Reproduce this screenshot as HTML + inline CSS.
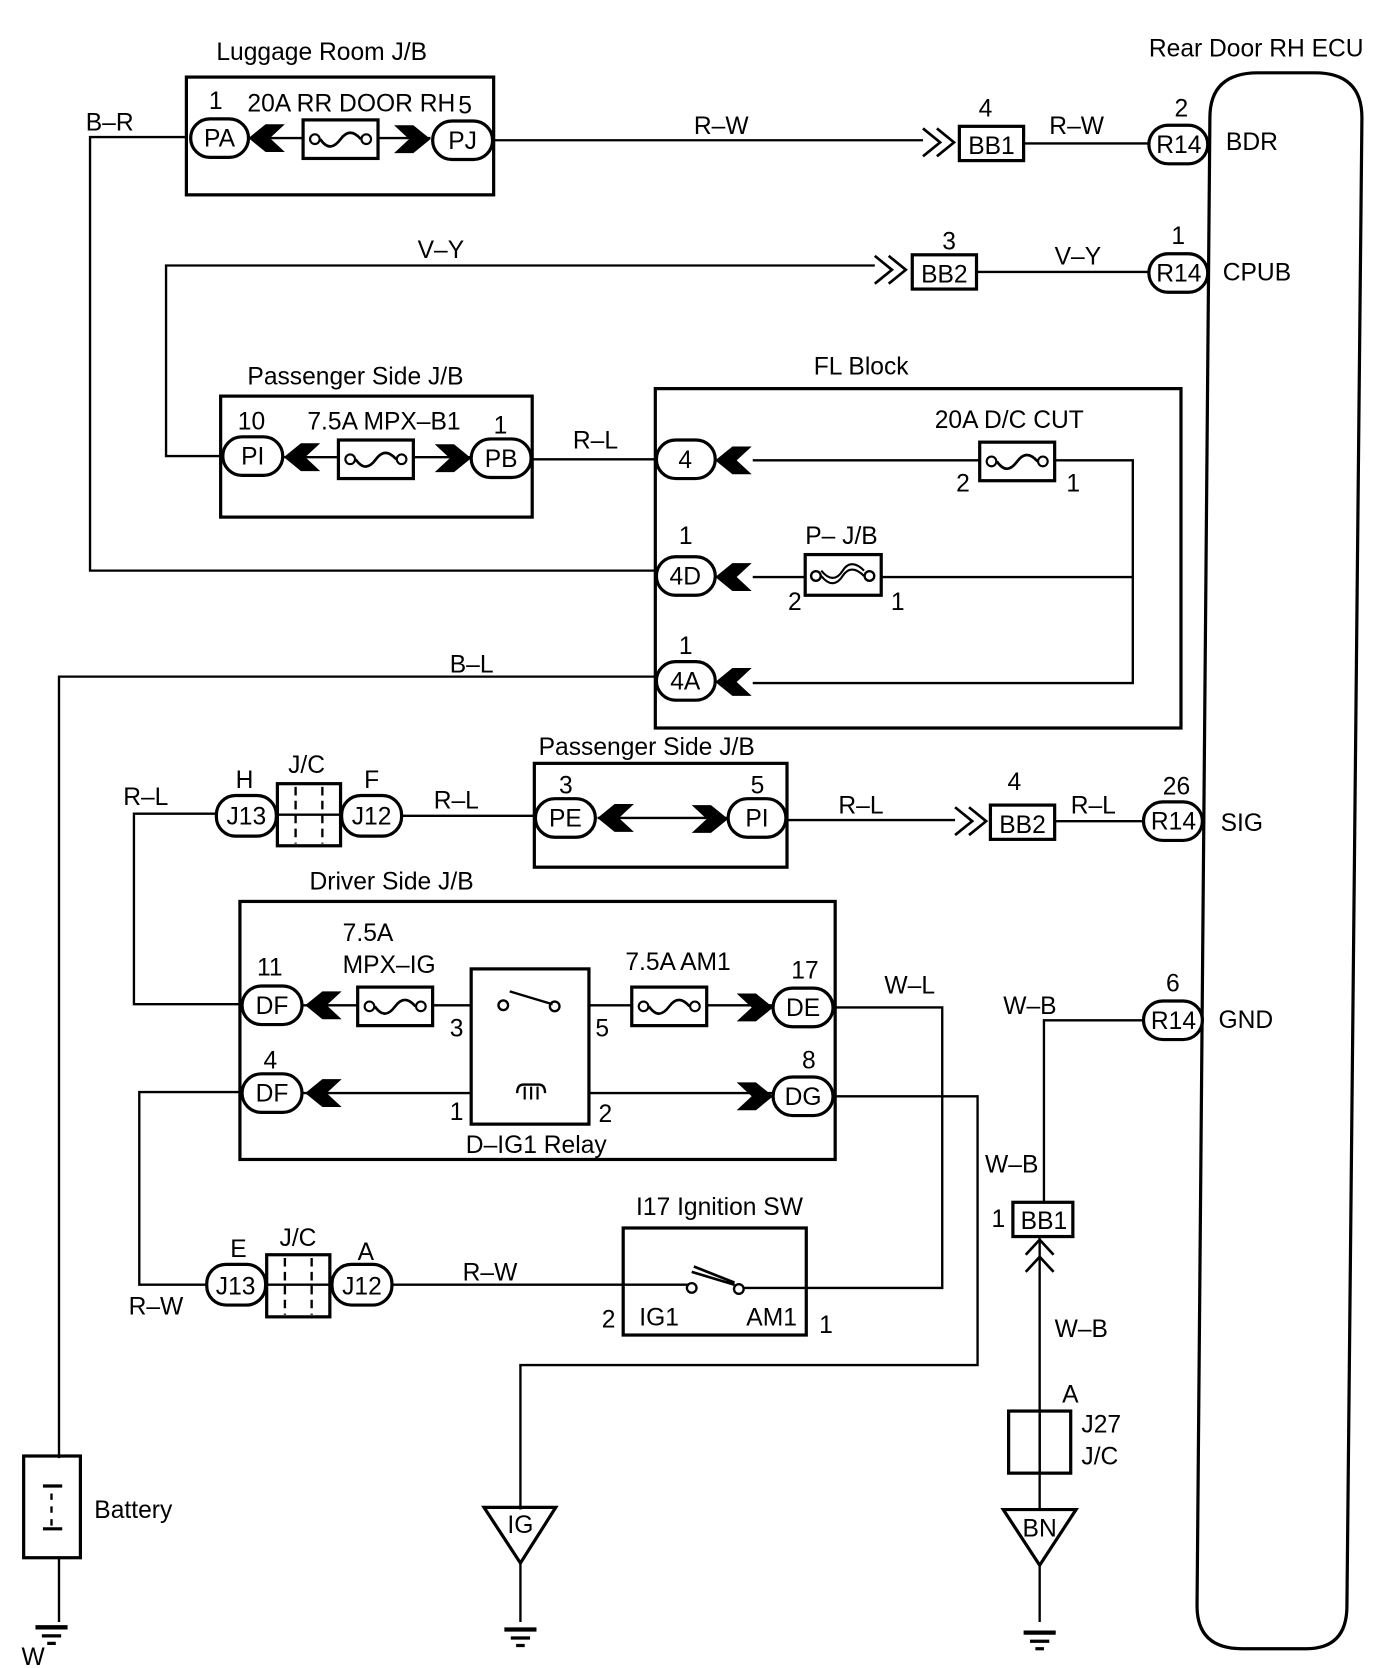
<!DOCTYPE html>
<html><head><meta charset="utf-8"><style>
html,body{margin:0;padding:0;background:#fff}
svg{display:block}
text{font-family:"Liberation Sans",sans-serif;font-size:23px;fill:#000}
</style></head><body>
<svg width="1392" height="1668" viewBox="0 0 1300 1558" xmlns="http://www.w3.org/2000/svg">
<defs>
<g id="al"><polygon points="0,0 16,-13 34,-13 20,0 34,13 16,13" fill="#000"/></g>
<g id="ar"><polygon points="0,0 -16,-13 -34,-13 -20,0 -34,13 -16,13" fill="#000"/></g>
<g id="fuse"><rect x="-35" y="-18" width="70" height="36" fill="#fff" stroke="#000" stroke-width="3"/><circle cx="-24" cy="0" r="4.5" fill="#fff" stroke="#000" stroke-width="2"/><circle cx="24" cy="0" r="4.5" fill="#fff" stroke="#000" stroke-width="2"/><path d="M-19,0 C-12,10 -6,8 0,0 C6,-8 12,-8 19,0" fill="none" stroke="#000" stroke-width="2.5"/></g>
<g id="dbl"><path d="M0,-13 L16,0 L0,13 M13,-13 L29,0 L13,13" fill="none" stroke="#000" stroke-width="2.5"/></g>
<g id="gnd"><line x1="-15" y1="0" x2="15" y2="0" stroke="#000" stroke-width="4"/><line x1="-9" y1="8" x2="9" y2="8" stroke="#000" stroke-width="3"/><line x1="-4" y1="15" x2="4" y2="15" stroke="#000" stroke-width="3"/></g>
</defs>
<g fill="none" stroke="#000" stroke-width="2.2">
<!-- wires -->
<polyline points="174,128 84,128 84,533 612,533"/>
<line x1="461" y1="131" x2="862" y2="131"/>
<line x1="956" y1="134" x2="1073" y2="134"/>
<polyline points="210,426 155,426 155,248 817,248"/>
<line x1="912" y1="254" x2="1073" y2="254"/>
<line x1="497" y1="429" x2="612" y2="429"/>
<polyline points="703,430 1058,430 1058,638 703,638"/>
<line x1="703" y1="539" x2="1058" y2="539"/>
<polyline points="612,632 55,632 55,1362"/>
<polyline points="202,760 125,760 125,938 226,938"/>
<line x1="375" y1="762" x2="500" y2="762"/>
<line x1="735" y1="766" x2="892" y2="766"/>
<line x1="985" y1="767" x2="1068" y2="767"/>
<polyline points="780,941 880,941 880,1203 690,1203"/>
<polyline points="780,1024 913,1024 913,1275 486,1275 486,1410"/>
<polyline points="226,1020 130,1020 130,1200 193,1200"/>
<line x1="366" y1="1200" x2="646" y2="1200"/>
<polyline points="1068,953 975,953 975,1123"/>
<line x1="971" y1="1155" x2="971" y2="1410"/>
<line x1="55" y1="1455" x2="55" y2="1515"/>
<line x1="486" y1="1460" x2="486" y2="1515"/>
<line x1="971" y1="1462" x2="971" y2="1515"/>
<!-- inner lines -->
<line x1="232" y1="129" x2="402" y2="129"/>
<line x1="265" y1="427" x2="440" y2="427"/>
<line x1="558" y1="764" x2="680" y2="764"/>
<line x1="283" y1="939" x2="722" y2="939"/>
<polyline points="283,1021 483,1021"/>
<polyline points="510,1021 722,1021"/>
<!-- boxes -->
<g stroke-width="3">
<rect x="174" y="72" width="287" height="110"/>
<rect x="206" y="370" width="291" height="113"/>
<rect x="612" y="363" width="491" height="317"/>
<rect x="499" y="713" width="236" height="97"/>
<rect x="224" y="842" width="556" height="241"/>
<rect x="440" y="905" width="110" height="145" fill="#fff"/>
<rect x="582" y="1147" width="171" height="100"/>
<rect x="896" y="118" width="60" height="32" fill="#fff"/>
<rect x="852" y="238" width="60" height="32" fill="#fff"/>
<rect x="925" y="752" width="60" height="32" fill="#fff"/>
<rect x="946" y="1123" width="56" height="32" fill="#fff"/>
<rect x="942" y="1318" width="58" height="58"/>
<rect x="22" y="1360" width="53" height="95"/>
<path d="M1175,68 L1228,68 Q1272,68 1272,110 L1258,1500 Q1258,1540 1220,1540 L1160,1540 Q1118,1540 1118,1500 L1130,110 Q1130,68 1175,68 Z"/>
<rect x="259" y="732" width="59" height="58" fill="#fff"/>
<rect x="249" y="1172" width="59" height="58" fill="#fff"/>
</g>
<line x1="259" y1="761" x2="318" y2="761"/><line x1="249" y1="1200" x2="308" y2="1200"/>
<line x1="276" y1="735" x2="276" y2="788" stroke-dasharray="8,5"/><line x1="301" y1="735" x2="301" y2="788" stroke-dasharray="8,5"/>
<line x1="266" y1="1175" x2="266" y2="1228" stroke-dasharray="8,5"/><line x1="291" y1="1175" x2="291" y2="1228" stroke-dasharray="8,5"/>
<line x1="971" y1="1318" x2="971" y2="1376"/>
<!-- triangles -->
<polygon points="452,1408 519,1408 486,1460" stroke-width="3"/>
<polygon points="937,1410 1005,1410 971,1462" stroke-width="3"/>
<!-- battery -->
<line x1="40" y1="1388" x2="58" y2="1388" stroke-width="3"/><line x1="48" y1="1395" x2="48" y2="1425" stroke-dasharray="6,6"/>
<line x1="40" y1="1428" x2="58" y2="1428" stroke-width="3"/>
<!-- BB1 chevrons up -->
<path d="M958,1172 L971,1158 L984,1172 M958,1188 L971,1174 L984,1188" stroke-width="2.5"/>
<!-- relay switch + coil -->
<circle cx="470" cy="939" r="4.5" fill="#fff"/><circle cx="518" cy="940" r="4.5" fill="#fff"/>
<line x1="476" y1="926" x2="516" y2="938"/>
<path d="M483,1021 q0,-8 6,-8 h14 q6,0 6,8" />
<path d="M490,1015 v12 M496,1015 v12 M502,1015 v12" stroke-width="2"/>
<!-- ignition switch -->
<circle cx="646" cy="1203" r="4.5" fill="#fff"/><circle cx="690" cy="1204" r="4.5" fill="#fff"/>
<path d="M646,1188 L686,1200 M648,1183 L686,1198" stroke-width="2.5"/>
<!-- P-J/B -->
<rect x="752" y="518" width="71" height="38" fill="#fff" stroke-width="3"/>
<circle cx="762" cy="538" r="4.5" fill="#fff"/><circle cx="812" cy="538" r="4.5" fill="#fff"/>
<path d="M767,538 C775,548 782,546 787,538 C792,530 799,530 807,538 M767,533 C775,543 782,541 787,533 C792,525 799,525 807,533" stroke-width="2"/>
</g>
<!-- fuses -->
<use href="#fuse" x="318" y="130"/>
<use href="#fuse" x="351" y="429"/>
<use href="#fuse" x="950" y="431"/>
<use href="#fuse" x="369" y="940"/>
<use href="#fuse" x="625" y="940"/>
<!-- arrows -->
<use href="#al" x="232" y="129"/><use href="#ar" x="402" y="130"/>
<use href="#al" x="265" y="427"/><use href="#ar" x="440" y="428"/>
<use href="#al" x="668" y="430"/><use href="#al" x="668" y="539"/><use href="#al" x="668" y="637"/>
<use href="#al" x="558" y="764"/><use href="#ar" x="680" y="765"/>
<use href="#al" x="285" y="939"/><use href="#ar" x="722" y="941"/>
<use href="#al" x="285" y="1021"/><use href="#ar" x="722" y="1024"/>
<use href="#dbl" x="862" y="133"/><use href="#dbl" x="817" y="252"/><use href="#dbl" x="892" y="767"/>
<use href="#gnd" x="48" y="1520"/><use href="#gnd" x="486" y="1522"/><use href="#gnd" x="971" y="1525"/>
<!-- pills -->
<g fill="#fff" stroke="#000" stroke-width="3">
<rect x="178" y="111" width="54" height="36" rx="18"/>
<rect x="404" y="113" width="56" height="36" rx="18"/>
<rect x="1073" y="117" width="55" height="36" rx="18"/>
<rect x="1073" y="237" width="55" height="36" rx="18"/>
<rect x="208" y="408" width="56" height="36" rx="18"/>
<rect x="440" y="410" width="56" height="36" rx="18"/>
<rect x="613" y="411" width="55" height="36" rx="18"/>
<rect x="613" y="520" width="55" height="36" rx="18"/>
<rect x="613" y="618" width="55" height="36" rx="18"/>
<rect x="202" y="743" width="56" height="38" rx="18"/>
<rect x="319" y="743" width="56" height="38" rx="18"/>
<rect x="500" y="746" width="56" height="36" rx="18"/>
<rect x="680" y="746" width="54" height="36" rx="18"/>
<rect x="1068" y="749" width="55" height="36" rx="18"/>
<rect x="226" y="921" width="56" height="36" rx="18"/>
<rect x="722" y="923" width="56" height="36" rx="18"/>
<rect x="226" y="1003" width="56" height="36" rx="18"/>
<rect x="722" y="1006" width="56" height="36" rx="18"/>
<rect x="193" y="1181" width="55" height="38" rx="18"/>
<rect x="310" y="1181" width="56" height="38" rx="18"/>
<rect x="1068" y="935" width="55" height="36" rx="18"/>
</g>
<g text-anchor="middle">
<text x="205" y="137">PA</text><text x="432" y="139">PJ</text>
<text x="1101" y="143">R14</text><text x="1101" y="263">R14</text>
<text x="236" y="434">PI</text><text x="468" y="436">PB</text>
<text x="640" y="437">4</text><text x="640" y="546">4D</text><text x="640" y="644">4A</text>
<text x="230" y="770">J13</text><text x="347" y="770">J12</text>
<text x="528" y="772">PE</text><text x="707" y="772">PI</text>
<text x="1096" y="775">R14</text>
<text x="254" y="947">DF</text><text x="750" y="949">DE</text>
<text x="254" y="1029">DF</text><text x="750" y="1032">DG</text>
<text x="220" y="1209">J13</text><text x="338" y="1209">J12</text>
<text x="1096" y="961">R14</text>
<text x="926" y="144">BB1</text><text x="882" y="264">BB2</text><text x="955" y="778">BB2</text><text x="975" y="1148">BB1</text>
<text x="486" y="1432">IG</text><text x="971" y="1435">BN</text>
</g>
<g>
<text x="202" y="56">Luggage Room J/B</text>
<text x="1073" y="53">Rear Door RH ECU</text>
<text x="195" y="102">1</text><text x="231" y="104" font-size="20">20A RR DOOR RH</text><text x="428" y="106">5</text>
<text x="80" y="122">B–R</text><text x="648" y="125">R–W</text><text x="980" y="125">R–W</text>
<text x="914" y="109">4</text><text x="1097" y="109">2</text><text x="1145" y="140">BDR</text>
<text x="390" y="241">V–Y</text><text x="985" y="247">V–Y</text><text x="880" y="233">3</text><text x="1094" y="228">1</text><text x="1142" y="262">CPUB</text>
<text x="231" y="359">Passenger Side J/B</text><text x="760" y="350">FL Block</text>
<text x="222" y="401">10</text><text x="287" y="401">7.5A MPX–B1</text><text x="461" y="405">1</text>
<text x="535" y="419">R–L</text>
<text x="873" y="400">20A D/C CUT</text><text x="893" y="459">2</text><text x="996" y="459">1</text>
<text x="634" y="508">1</text><text x="752" y="508">P– J/B</text><text x="736" y="570">2</text><text x="832" y="570">1</text>
<text x="634" y="611">1</text><text x="420" y="628">B–L</text>
<text x="115" y="752">R–L</text><text x="220" y="736">H</text><text x="269" y="722">J/C</text><text x="340" y="736">F</text>
<text x="405" y="755">R–L</text><text x="503" y="705">Passenger Side J/B</text>
<text x="522" y="741" font-size="19">3</text><text x="701" y="741" font-size="19">5</text>
<text x="783" y="760">R–L</text><text x="1000" y="760">R–L</text><text x="941" y="738">4</text><text x="1086" y="742">26</text><text x="1140" y="776">SIG</text>
<text x="289" y="831">Driver Side J/B</text>
<text x="320" y="879">7.5A</text><text x="320" y="909">MPX–IG</text><text x="240" y="911">11</text>
<text x="584" y="906">7.5A AM1</text><text x="739" y="914">17</text><text x="826" y="928">W–L</text>
<text x="420" y="968">3</text><text x="556" y="968">5</text>
<text x="246" y="998">4</text><text x="749" y="998">8</text>
<text x="420" y="1046">1</text><text x="559" y="1048">2</text><text x="435" y="1077">D–IG1 Relay</text>
<text x="594" y="1135">I17 Ignition SW</text>
<text x="215" y="1174">E</text><text x="261" y="1164">J/C</text><text x="334" y="1177">A</text>
<text x="432" y="1196">R–W</text><text x="120" y="1228">R–W</text>
<text x="562" y="1240">2</text><text x="597" y="1238">IG1</text><text x="697" y="1238">AM1</text><text x="765" y="1245">1</text>
<text x="937" y="947">W–B</text><text x="1089" y="926">6</text><text x="1138" y="960">GND</text>
<text x="920" y="1095" font-size="19">W–B</text><text x="926" y="1146">1</text>
<text x="985" y="1249">W–B</text><text x="992" y="1310">A</text><text x="1010" y="1338">J27</text><text x="1010" y="1368">J/C</text>
<text x="88" y="1418">Battery</text><text x="20" y="1555">W</text>
</g>
</svg>
</body></html>
